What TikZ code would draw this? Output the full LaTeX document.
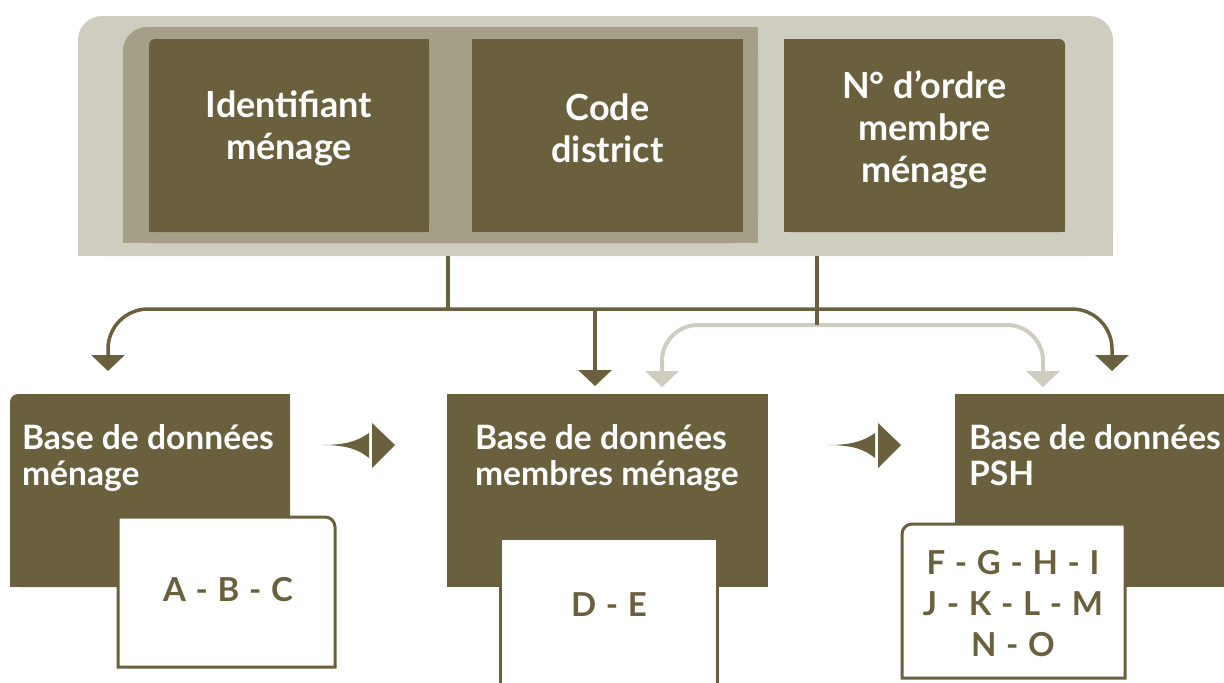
\documentclass[tikz,border=0pt]{standalone}
\usepackage{fontspec}
\setmainfont{Lato}
\usetikzlibrary{positioning,arrows.meta,calc}
\definecolor{olivedark}{RGB}{107,96,62}
\definecolor{olivemid}{RGB}{166,159,136}
\definecolor{olivelight}{RGB}{207,204,192}

\begin{document}
\begin{tikzpicture}[
    x=0.5pt, y=-0.5pt,
    every node/.style={inner sep=0pt},
    keybox/.style={rectangle, fill=olivedark, minimum height=96.5pt},
    keytext/.style={text=white, align=center, font=\bfseries\fontsize{18}{21}\selectfont},
    dbbox/.style={rectangle, fill=olivedark, minimum height=96.5pt},
    dbtext/.style={text=white, align=left, font=\bfseries\fontsize{16.8}{18}\selectfont},
    varbox/.style={fill=white, draw=olivedark, line width=1.5pt},
    vartext/.style={text=olivedark, align=center, font=\bfseries\fontsize{16.5}{20.5}\selectfont\addfontfeatures{LetterSpace=5}},
    link/.style={draw=olivedark, line width=1.75pt, -{Triangle[width=16.5pt, length=8pt]}},
    greylink/.style={draw=olivelight, line width=2pt, -{Triangle[width=16.5pt, length=8pt]}}
]
\useasboundingbox (0,0) rectangle (1224,682);

% key bar on top
\node[fill=olivelight, rounded corners=12pt, minimum width=517.5pt, minimum height=120pt] (keybar) at (595.5,136) {};
\fill[olivelight] (keybar.south west) rectangle ++(30,-30);
\fill[olivelight] (keybar.south east) rectangle ++(-30,-30);

\node[fill=olivemid, rounded corners=12pt, minimum width=317.5pt, minimum height=108pt] (keygroup) at (440.5,135) {};
\fill[olivemid] (keygroup.south west) rectangle ++(30,-30);
\fill[olivemid] (keygroup.south east) rectangle ++(-30,-30);
\fill[olivemid] (keygroup.north east) rectangle ++(-30,30);

\node[keybox, minimum width=140pt, rounded corners=3pt] (idbox) at (289,135.5) {};
\fill[olivedark] (idbox.north east) rectangle ++(-10,10);
\fill[olivedark] (idbox.south east) rectangle ++(-10,-10);
\fill[olivedark] (idbox.south west) rectangle ++(10,-10);
\node[keybox, minimum width=135.5pt] (codebox) at (607.5,135.5) {};
\node[keybox, minimum width=140.5pt, rounded corners=3pt] (ordbox) at (924.5,135.5) {};
\fill[olivedark] (ordbox.north west) rectangle ++(10,10);
\fill[olivedark] (ordbox.south west) rectangle ++(10,-10);
\fill[olivedark] (ordbox.south east) rectangle ++(-10,-10);

\node[keytext] at ([yshift=3.5pt]idbox.center) {Identifiant\\ménage};
\node[keytext] at ([yshift=3.5pt]codebox.center) {Code\\district};
\node[keytext] at ([yshift=3pt]ordbox.center) {N° d’ordre\\membre\\ménage};

% databases
\node[dbbox, minimum width=140pt, rounded corners=4pt] (dbmen) at (150,490.5) {};
\fill[olivedark] (dbmen.north east) rectangle ++(-10,10);
\fill[olivedark] (dbmen.south east) rectangle ++(-10,-10);
\fill[olivedark] (dbmen.south west) rectangle ++(10,-10);
\node[dbbox, minimum width=160.5pt] (dbmem) at (607.5,490.5) {};
\node[dbbox, minimum width=140pt] (dbpsh) at (1095,490.5) {};

\node[dbtext, below right=15.5pt and 6pt of dbmen.north west] {Base de données\\ménage};
\node[dbtext, below right=15.5pt and 14pt of dbmem.north west] {Base de données\\membres ménage};
\node[dbtext, below right=15.5pt and 7pt of dbpsh.north west] {Base de données\\PSH};

% variable cards
\path[varbox] (118,667) -- (118,517) -- (325,517) to[out=0, in=90] (335,527) -- (335,667) -- cycle;
\path[varbox] (500,690) -- (500,538) -- (717,538) -- (717,690);
\path[varbox] (1125,678) -- (902,678) -- (902,534) to[out=90, in=180] (912,524) -- (1125,524) -- cycle;

\node[vartext] (abc) at (228,590) {A - B - C};
\node[vartext] (de) at (609,605) {D - E};
\node[vartext] (fo) at (1013,604) {F - G - H - I\\J - K - L - M\\N - O};

% connectors
\coordinate (busL) at (448,309);
\coordinate (busR) at (817,325);
\coordinate (tipmen) at (108,371);
\coordinate (tipmem) at (595,386);
\coordinate (tippsh) at (1112,371);
\coordinate (tipgmem) at (662,387);
\coordinate (tipgpsh) at (1043,387);

\draw[olivedark, line width=1.75pt] (keybar.south -| busL) -- (busL);
\draw[link, rounded corners=20pt] (busL) -| (tipmen);
\draw[link, rounded corners=20pt] (busL) -| (tippsh);
\draw[link] (busL -| tipmem) -- (tipmem);
\draw[greylink, rounded corners=18pt] (busR) -| (tipgmem);
\draw[greylink, rounded corners=18pt] (busR) -| (tipgpsh);
\draw[olivedark, line width=2pt] (keybar.south -| busR) -- (busR);

% flow arrows
\foreach \x in {322,828} {
    \fill[olivedark] (\x,445) .. controls (\x+28,445) and (\x+38,439) .. (\x+47,433)
        -- (\x+47,458) .. controls (\x+38,451) and (\x+28,445) .. cycle;
    \fill[olivedark] (\x+50,423) -- (\x+73,445) -- (\x+50,468) -- cycle;
}
\end{tikzpicture}
\end{document}
